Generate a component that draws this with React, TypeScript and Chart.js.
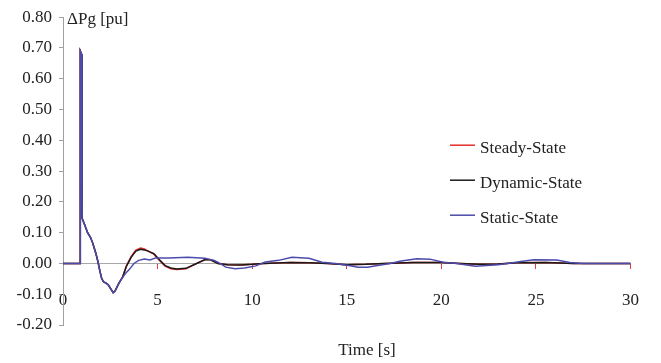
import React, { useEffect, useRef } from "react";
import { Chart, registerables } from "chart.js";

Chart.register(...registerables);

// Shared initial transient (all three responses coincide here)
const initialTimes = [0, 0.9, 0.9, 0.93, 0.98, 1.0, 1.05, 1.15, 1.3, 1.45, 1.55, 1.65, 1.75, 1.85, 1.95, 2.05, 2.15, 2.3, 2.4, 2.5, 2.65, 2.75, 2.95];
const initialValues = [0, 0, 0.65, 0.69, 0.68, 0.15, 0.14, 0.125, 0.1, 0.085, 0.07, 0.05, 0.03, 0.005, -0.025, -0.05, -0.06, -0.065, -0.07, -0.08, -0.095, -0.09, -0.065];

// Static-State tail
const staticTimes = [3.1, 3.3, 3.5, 3.75, 4.0, 4.3, 4.6, 4.9, 5.6, 6.6, 7.5, 8.0, 8.3, 8.6, 9.1, 9.6, 10.2, 10.7, 11.4, 12.1, 13.0, 13.7, 14.4, 15.1, 15.6, 16.1, 16.7, 17.3, 17.8, 18.7, 19.4, 20.1, 20.8, 21.8, 23.0, 23.5, 24.2, 24.9, 26.1, 26.8, 27.5, 30];
const staticValues = [-0.05, -0.033, -0.02, 0.0, 0.01, 0.014, 0.011, 0.018, 0.018, 0.02, 0.017, 0.01, 0.0, -0.012, -0.017, -0.015, -0.008, 0.005, 0.01, 0.02, 0.017, 0.004, 0.0, -0.007, -0.012, -0.012, -0.006, 0.0, 0.007, 0.015, 0.014, 0.004, 0.0, -0.009, -0.004, 0.0, 0.006, 0.012, 0.011, 0.003, 0.0, 0.0];

// Dynamic-State tail
const dynamicTimes = [3.15, 3.35, 3.6, 3.85, 4.1, 4.3, 4.5, 4.8, 5.1, 5.4, 5.7, 6.0, 6.5, 7.0, 7.5, 7.8, 8.2, 8.7, 9.4, 10.0, 10.6, 12.0, 13.0, 14.0, 15.0, 16.0, 17.0, 18.5, 20.0, 21.0, 22.0, 23.0, 24.0, 25.5, 27.0, 30];
const dynamicValues = [-0.045, -0.01, 0.02, 0.04, 0.046, 0.044, 0.04, 0.032, 0.012, -0.007, -0.015, -0.018, -0.016, -0.002, 0.012, 0.012, 0.0, -0.004, -0.005, -0.003, 0.0, 0.003, 0.002, 0.0, -0.004, -0.003, 0.0, 0.003, 0.003, 0.0, -0.003, -0.002, 0.002, 0.003, 0.0, 0.0];

// Steady-State tail
const steadyTimes = [3.15, 3.35, 3.6, 3.85, 4.1, 4.3, 4.5, 4.8, 5.1, 5.4, 5.7, 6.0, 6.5, 7.0, 7.5, 7.8, 8.2, 8.7, 9.4, 10.0, 10.6, 12.0, 13.0, 14.0, 15.0, 16.0, 17.0, 18.5, 20.0, 21.0, 22.0, 23.0, 24.0, 25.5, 27.0, 30];
const steadyValues = [-0.044, -0.008, 0.022, 0.043, 0.05, 0.047, 0.04, 0.03, 0.01, -0.009, -0.017, -0.02, -0.017, -0.002, 0.013, 0.012, 0.0, -0.004, -0.005, -0.003, 0.0, 0.003, 0.002, 0.0, -0.004, -0.003, 0.0, 0.003, 0.003, 0.0, -0.003, -0.002, 0.002, 0.003, 0.0, 0.0];

const seriesLabels = ["Steady-State", "Dynamic-State", "Static-State"];
const seriesColors = ["#e3302a", "#1a1a1a", "#4b4bab"];

const xTitle = "Time [s]";
const yTitle = "ΔPg [pu]";

const FONT = "'Liberation Serif', 'Times New Roman', serif";

function toPoints(t: number[], v: number[]) {
  return t.map((x, i) => ({ x, y: v[i] }));
}

const annotationsPlugin = {
  id: "customTexts",
  afterDatasetsDraw(chart: any) {
    const { ctx, chartArea } = chart;
    ctx.save();
    ctx.font = `17px ${FONT}`;
    ctx.fillStyle = "#222";
    // y-axis title
    ctx.textAlign = "left";
    ctx.textBaseline = "middle";
    ctx.fillText(yTitle, chartArea.left + 4, chartArea.top + 2);
    // x-axis title
    ctx.textAlign = "center";
    ctx.fillText(xTitle, chartArea.left + 304, chartArea.bottom + 26);
    // legend
    const lx = chartArea.left + 387;
    const ly = chartArea.top + 128;
    seriesLabels.forEach((lab, i) => {
      const y = ly + i * 35;
      ctx.strokeStyle = seriesColors[i];
      ctx.lineWidth = 1.5;
      ctx.beginPath();
      ctx.moveTo(lx, y);
      ctx.lineTo(lx + 25, y);
      ctx.stroke();
      ctx.textAlign = "left";
      ctx.fillStyle = "#222";
      ctx.fillText(lab, lx + 30, y + 3);
    });
    ctx.restore();
  },
};

export default function App() {
  const ref = useRef<HTMLCanvasElement | null>(null);
  useEffect(() => {
    document.body.style.margin = "0";
    const canvas = ref.current;
    if (!canvas) return;
    const chart = new Chart(canvas, {
      type: "line",
      data: {
        datasets: [
          {
            label: seriesLabels[0],
            data: toPoints([...initialTimes, ...steadyTimes], [...initialValues, ...steadyValues]),
            borderColor: seriesColors[0],
            borderWidth: 1.5,
            pointRadius: 0,
            order: 3,
          },
          {
            label: seriesLabels[1],
            data: toPoints([...initialTimes, ...dynamicTimes], [...initialValues, ...dynamicValues]),
            borderColor: seriesColors[1],
            borderWidth: 1.5,
            pointRadius: 0,
            order: 2,
          },
          {
            label: seriesLabels[2],
            data: toPoints([...initialTimes, ...staticTimes], [...initialValues, ...staticValues]),
            borderColor: seriesColors[2],
            borderWidth: 1.5,
            pointRadius: 0,
            order: 1,
          },
        ],
      },
      options: {
        animation: false,
        responsive: false,
        maintainAspectRatio: false,
        layout: { padding: { left: 0, right: 24, top: 17, bottom: 38 } },
        plugins: {
          legend: { display: false },
          tooltip: { enabled: false },
        },
        elements: { line: { tension: 0 } },
        scales: {
          x: {
            type: "linear",
            min: 0,
            max: 30,
            position: { y: 0 } as any,
            ticks: {
              stepSize: 5,
              padding: 22,
              color: "#222",
              font: { family: FONT, size: 17 },
            },
            grid: {
              drawOnChartArea: false,
              drawTicks: true,
              tickLength: 5,
              tickColor: "#e04040",
            },
            border: { color: "#a8a8a8", width: 1 },
          },
          y: {
            type: "linear",
            min: -0.2,
            max: 0.8,
            ticks: {
              stepSize: 0.1,
              padding: 7,
              color: "#222",
              font: { family: FONT, size: 17 },
              callback: (v: any) => (Math.abs(Number(v)) < 1e-9 ? "0.00" : Number(v).toFixed(2)),
            },
            grid: {
              drawOnChartArea: false,
              drawTicks: true,
              tickLength: 4,
              tickColor: "#a0a0a0",
            },
            border: { color: "#a0a0a0", width: 1 },
            afterFit: (scale: any) => {
              scale.width = 63;
            },
          },
        },
      },
      plugins: [annotationsPlugin],
    });
    return () => chart.destroy();
  }, []);
  return <canvas ref={ref} width={661} height={363} />;
}
